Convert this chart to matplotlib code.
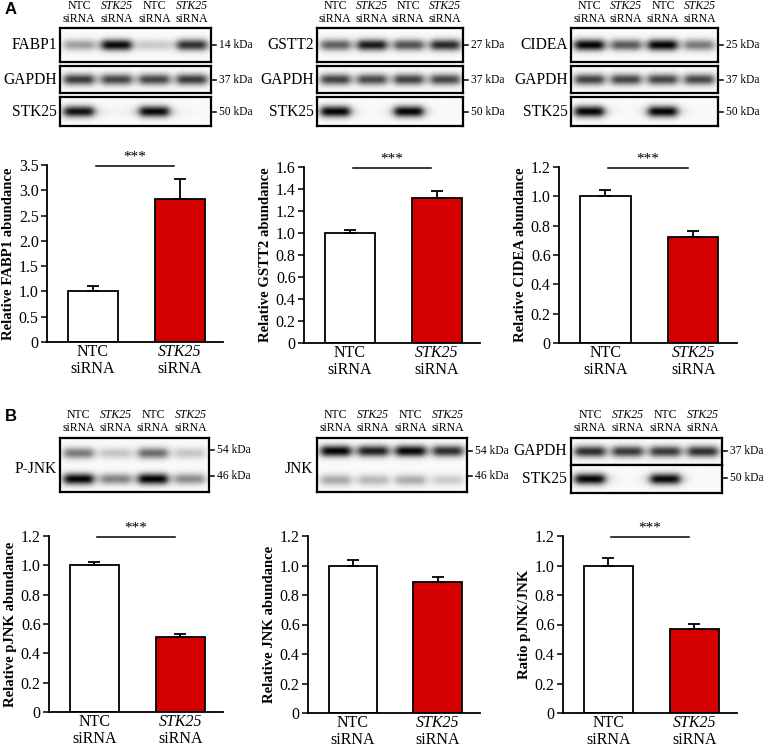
import numpy as np
import matplotlib
matplotlib.use('Agg')
import matplotlib.pyplot as plt
from matplotlib.transforms import offset_copy

plt.rcParams['font.family'] = ['Liberation Serif', 'DejaVu Serif']

# ---------------- data ----------------
group_top = ['NTC', 'STK25']
group_italic = [False, True]
group_bottom = ['siRNA', 'siRNA']
lane_top = ['NTC', 'STK25', 'NTC', 'STK25']
lane_italic = [False, True, False, True]

fabp1_mean = [1.00, 2.83]; fabp1_err = [0.10, 0.40]
gstt2_mean = [1.00, 1.32]; gstt2_err = [0.03, 0.06]
cidea_mean = [1.00, 0.72]; cidea_err = [0.04, 0.045]
pjnk_mean = [1.00, 0.51]; pjnk_err = [0.02, 0.025]
jnk_mean = [1.00, 0.89]; jnk_err = [0.04, 0.035]
ratio_mean = [1.00, 0.57]; ratio_err = [0.05, 0.035]

# band darkness per lane (NTC, STK25, NTC, STK25)
fabp1_bands = [0.35, 0.95, 0.18, 0.80]
gapdh_a1 = [0.75, 0.70, 0.70, 0.75]
stk25_a1 = [0.92, 0.02, 0.95, 0.01]
gstt2_bands = [0.60, 0.88, 0.65, 0.82]
gapdh_a2 = [0.72, 0.68, 0.72, 0.70]
stk25_a2 = [0.97, 0.0, 0.97, 0.0]
cidea_bands = [0.97, 0.62, 0.97, 0.50]
gapdh_a3 = [0.72, 0.70, 0.70, 0.70]
stk25_a3 = [0.97, 0.0, 0.97, 0.0]
pjnk54 = [0.50, 0.20, 0.55, 0.20]
pjnk46 = [0.97, 0.45, 0.97, 0.42]
jnk54 = [0.97, 0.85, 0.95, 0.80]
jnk46 = [0.32, 0.25, 0.30, 0.18]
gapdh_b = [0.80, 0.75, 0.75, 0.80]
stk25_b = [0.97, 0.0, 0.95, 0.0]

RED = '#d40000'
W, H = 766, 747
fig = plt.figure(figsize=(W / 100, H / 100), dpi=100)


def px_axes(L, T, R, B):
    return fig.add_axes([L / W, 1 - B / H, (R - L) / W, (B - T) / H])


def bar_chart(L, T, R, B, means, errs, ylabel, ymax, step, sig):
    ax = px_axes(L, T, R, B)
    x = np.arange(2)
    ax.bar(x, means, width=0.575, color=['white', RED], edgecolor='black',
           linewidth=1.3, zorder=2)
    ax.errorbar(x, means, yerr=[[0, 0], errs], fmt='none', ecolor='black',
                elinewidth=1.3, capsize=4.5, capthick=1.3, zorder=3)
    ax.set_xlim(-0.53, 1.5)
    ax.set_ylim(0, ymax)
    ticks = np.round(np.arange(0, ymax + 1e-9, step), 2)
    ax.set_yticks(ticks)
    ax.set_yticklabels(['0' if t == 0 else f'{t:.1f}' for t in ticks], fontsize=11.5)
    ax.set_xticks([])
    t1 = offset_copy(ax.get_xaxis_transform(), fig=fig, y=-10, units='dots')
    t2 = offset_copy(ax.get_xaxis_transform(), fig=fig, y=-27, units='dots')
    for i in range(2):
        ax.text(x[i], 0, group_top[i], transform=t1, ha='center', va='center',
                fontsize=11.5, style='italic' if group_italic[i] else 'normal')
        ax.text(x[i], 0, group_bottom[i], transform=t2, ha='center', va='center',
                fontsize=11.5)
    ax.tick_params(axis='y', length=4, width=1.1, pad=2)
    for s in ['top', 'right']:
        ax.spines[s].set_visible(False)
    for s in ['left', 'bottom']:
        ax.spines[s].set_linewidth(1.3)
    ax.set_ylabel(ylabel, fontsize=10.6, fontweight='bold', labelpad=3)
    if sig:
        y = ymax * 0.995
        ax.plot([0.03, 0.94], [y, y], color='black', lw=1.1, clip_on=False)
        ax.text(0.485, y + ymax * 0.012, '***', ha='center', va='bottom',
                fontsize=11, clip_on=False)
    return ax


def blot(L, T, R, B, band_sets, centers):
    ax = px_axes(L, T, R, B)
    hpx = B - T
    nx, ny = 400, max(int(hpx * 4), 40)
    xs = np.linspace(0, 4, nx)
    ys = np.linspace(0, 1, ny)
    X, Y = np.meshgrid(xs, ys)
    img = np.full_like(X, 0.02)
    sig = 4.0 / hpx
    for amps, yc in zip(band_sets, centers):
        for i, a in enumerate(amps):
            prof = 1 / (1 + ((X - (i + 0.5)) / 0.40) ** 6)
            img += a * prof * np.exp(-0.5 * ((Y - yc) / sig) ** 2)
    ax.imshow(img, extent=[0, 4, 0, 1], origin='lower', cmap='gray_r',
              vmin=0, vmax=1.0, aspect='auto', interpolation='bilinear')
    ax.set_xticks([]); ax.set_yticks([])
    for s in ax.spines.values():
        s.set_linewidth(1.6)
    return ax


def kda(R, y, txt):
    fig.add_artist(plt.Line2D([R / W, (R + 5) / W], [1 - y / H, 1 - y / H],
                              color='black', lw=1.1))
    fig.text((R + 8) / W, 1 - y / H, txt, fontsize=8.3, va='center', ha='left')


def blot_label(xr, y, txt):
    fig.text(xr / W, 1 - y / H, txt, fontsize=11.2, ha='right', va='center')


def headers(L, R, y1, y2):
    lw = (R - L) / 4
    for i in range(4):
        cx = L + lw * (i + 0.5)
        fig.text(cx / W, 1 - y1 / H, lane_top[i], fontsize=8.5, ha='center',
                 va='center', style='italic' if lane_italic[i] else 'normal')
        fig.text(cx / W, 1 - y2 / H, 'siRNA', fontsize=8.5, ha='center', va='center')


# ---------------- Panel A blots ----------------
panelsA = [
    (60, 211, 'FABP1', fabp1_bands, gapdh_a1, stk25_a1, '14 kDa'),
    (317, 463, 'GSTT2', gstt2_bands, gapdh_a2, stk25_a2, '27 kDa'),
    (571, 718, 'CIDEA', cidea_bands, gapdh_a3, stk25_a3, '25 kDa'),
]
for L, R, name, b1, b2, b3, kd in panelsA:
    headers(L, R, 6, 19)
    blot(L, 28, R, 62, [b1], [0.5])
    blot(L, 66, R, 93, [b2], [0.5])
    blot(L, 97, R, 126, [b3], [0.5])
    blot_label(L - 3, 45, name)
    blot_label(L - 3, 80, 'GAPDH')
    blot_label(L - 3, 112, 'STK25')
    kda(R, 45, kd)
    kda(R, 80, '37 kDa')
    kda(R, 112, '50 kDa')

# ---------------- Panel B blots ----------------
headers(60, 209, 415, 428)
blot(60, 438, 209, 492, [pjnk54, pjnk46], [0.72, 0.24])
blot_label(57, 469, 'P-JNK')
kda(209, 450, '54 kDa'); kda(209, 476, '46 kDa')

headers(317, 467, 415, 428)
blot(317, 438, 467, 492, [jnk54, jnk46], [0.76, 0.22])
blot_label(313, 469, 'JNK')
kda(467, 451, '54 kDa'); kda(467, 476, '46 kDa')

headers(571, 722, 415, 428)
blot(571, 438, 722, 465, [gapdh_b], [0.5])
blot(571, 465, 722, 493, [stk25_b], [0.5])
blot_label(567, 451, 'GAPDH')
blot_label(567, 479, 'STK25')
kda(722, 451, '37 kDa'); kda(722, 478, '50 kDa')

# ---------------- bar charts ----------------
bar_chart(47, 165, 223, 342, fabp1_mean, fabp1_err, 'Relative FABP1 abundance', 3.5, 0.5, True)
bar_chart(304, 167, 480, 343, gstt2_mean, gstt2_err, 'Relative GSTT2 abundance', 1.6, 0.2, True)
bar_chart(559, 167, 737, 343, cidea_mean, cidea_err, 'Relative CIDEA abundance', 1.2, 0.2, True)
bar_chart(49, 536, 223, 712, pjnk_mean, pjnk_err, 'Relative pJNK abundance', 1.2, 0.2, True)
bar_chart(308, 536, 480, 713, jnk_mean, jnk_err, 'Relative JNK abundance', 1.2, 0.2, False)
bar_chart(563, 536, 737, 713, ratio_mean, ratio_err, 'Ratio pJNK/JNK', 1.2, 0.2, True)

fig.text(5 / W, 1 - 9 / H, 'A', fontsize=12, fontweight='bold', family='Liberation Sans',
         ha='left', va='center')
fig.text(5 / W, 1 - 417 / H, 'B', fontsize=12, fontweight='bold', family='Liberation Sans',
         ha='left', va='center')

fig.savefig('out.png', dpi=100)
